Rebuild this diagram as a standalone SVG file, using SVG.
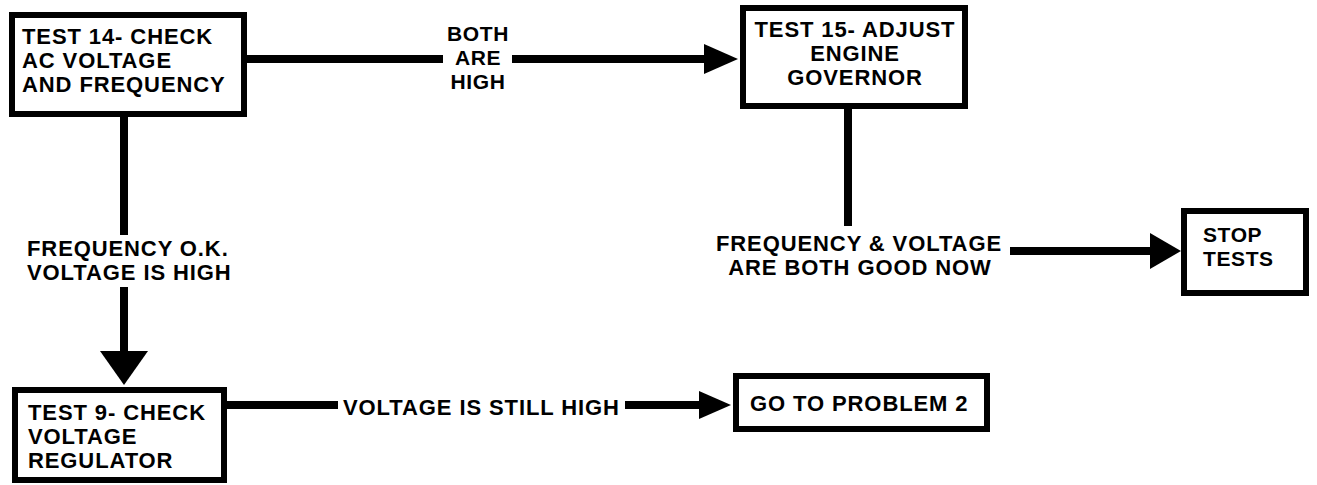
<svg xmlns="http://www.w3.org/2000/svg" width="1317" height="485" viewBox="0 0 1317 485">
  <style>
    .box { fill: #ffffff; stroke: #000000; stroke-width: 6; }
    .t { font-family: "Liberation Sans", Arial, Helvetica, sans-serif; font-weight: bold; font-size: 22px; letter-spacing: 0.9px; fill: #000000; }
    .sm { font-size: 21px; letter-spacing: 0.6px; }
    .mid { text-anchor: middle; }
    .wire { stroke: #000000; stroke-width: 8; fill: none; }
    .head { fill: #000000; }
  </style>
  <rect x="0" y="0" width="1317" height="485" fill="#ffffff"/>

  <!-- connectors -->
  <g id="connectors">
    <!-- Test 14 to Test 15 : both are high -->
    <line class="wire" x1="247" y1="59" x2="443" y2="59"/>
    <line class="wire" x1="512" y1="59" x2="710" y2="59"/>
    <polygon class="head" points="704,44 738,59 704,74"/>
    <!-- Test 14 to Test 9 : frequency ok, voltage high -->
    <line class="wire" x1="124" y1="117" x2="124" y2="235"/>
    <line class="wire" x1="124" y1="287" x2="124" y2="355"/>
    <polygon class="head" points="100,351 148,351 124,385"/>
    <!-- Test 15 to Stop : both good now -->
    <line class="wire" x1="848" y1="108" x2="848" y2="226"/>
    <line class="wire" x1="1010" y1="251" x2="1155" y2="251"/>
    <polygon class="head" points="1150,233 1181,251 1150,269"/>
    <!-- Test 9 to Problem 2 : voltage still high -->
    <line class="wire" x1="227" y1="405" x2="338" y2="405"/>
    <line class="wire" x1="625" y1="405" x2="704" y2="405"/>
    <polygon class="head" points="699,391 731,405 699,419"/>
  </g>

  <!-- connector labels -->
  <g id="labels">
    <text class="t mid sm" x="478" y="41">BOTH</text>
    <text class="t mid sm" x="478" y="65">ARE</text>
    <text class="t mid sm" x="478" y="89">HIGH</text>
    <text class="t" x="27" y="256">FREQUENCY O.K.</text>
    <text class="t" x="27" y="280">VOLTAGE IS HIGH</text>
    <text class="t mid" x="859" y="251">FREQUENCY &amp; VOLTAGE</text>
    <text class="t mid" x="860" y="275">ARE BOTH GOOD NOW</text>
    <text class="t" x="343" y="415">VOLTAGE IS STILL HIGH</text>
  </g>

  <g id="test14">
    <rect class="box" x="12" y="15" width="232" height="99"/>
    <text class="t" x="22" y="44">TEST 14- CHECK</text>
    <text class="t" x="22" y="68">AC VOLTAGE</text>
    <text class="t" x="22" y="92">AND FREQUENCY</text>
  </g>

  <g id="test15">
    <rect class="box" x="743" y="8" width="222" height="98"/>
    <text class="t mid" x="855" y="37">TEST 15- ADJUST</text>
    <text class="t mid" x="855" y="61">ENGINE</text>
    <text class="t mid" x="855" y="85">GOVERNOR</text>
  </g>

  <g id="stop">
    <rect class="box" x="1184" y="211" width="122" height="82"/>
    <text class="t sm" x="1203" y="242">STOP</text>
    <text class="t sm" x="1203" y="266">TESTS</text>
  </g>

  <g id="test9">
    <rect class="box" x="15" y="390" width="209" height="90"/>
    <text class="t" x="28" y="420">TEST 9- CHECK</text>
    <text class="t" x="28" y="444">VOLTAGE</text>
    <text class="t" x="28" y="468">REGULATOR</text>
  </g>

  <g id="problem2">
    <rect class="box" x="736" y="376" width="251" height="53"/>
    <text class="t" x="750" y="411">GO TO PROBLEM 2</text>
  </g>
</svg>
